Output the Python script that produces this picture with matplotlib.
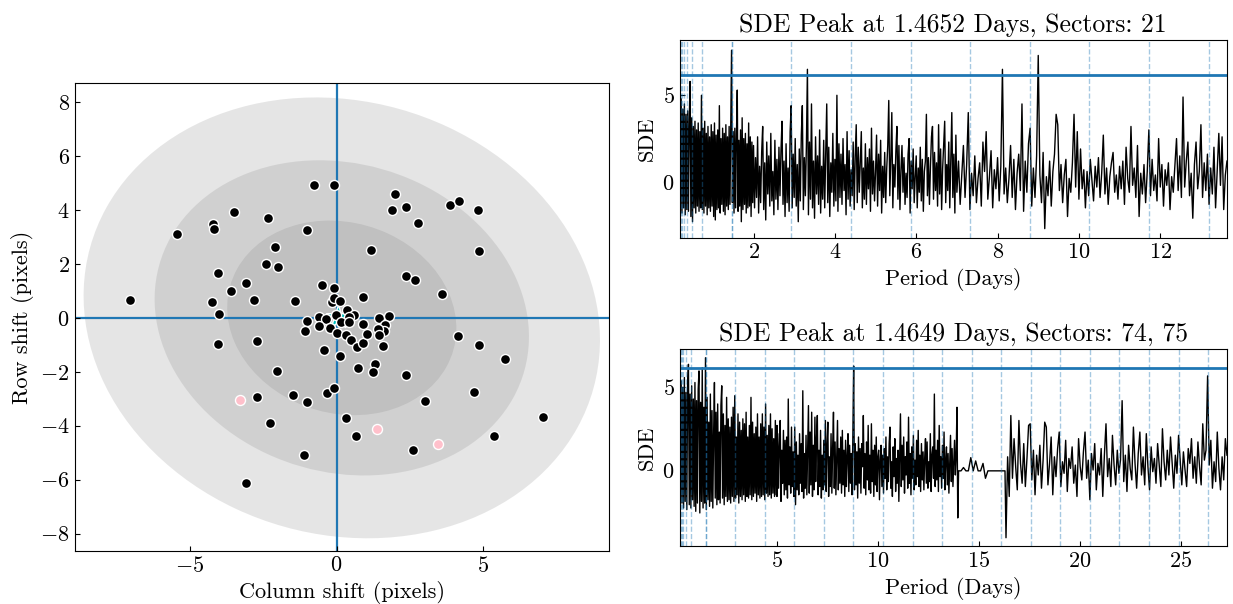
import numpy as np
import matplotlib.pyplot as plt
from matplotlib.patches import Ellipse

plt.rcParams.update({
    "font.family": "serif",
    "font.serif": ["cmr10"],
    "mathtext.fontset": "cm",
    "axes.formatter.use_mathtext": True,
    "font.size": 16,
    "xtick.direction": "in",
    "ytick.direction": "in",
})

# --- centroid shifts (pixels) ---
col_shift = [-7.04, -5.43, -4.19, -4.16, -3.49, -2.34, -0.99, -0.76, -0.07, 2.00,
             1.89, 2.36, 2.76, 3.88, 4.18, 4.82, 4.84, 1.19, -2.08, -2.41,
             -1.99, -4.03, -3.07, -3.61, -4.24, -4.01, -2.80, -1.43, -0.50, -0.07,
             0.91, 2.38, 2.66, 3.61, -4.04, -2.72, 4.15, 4.86, 5.74, -2.01,
             -0.42, 0.11, 0.72, 1.31, 1.23, 2.35, -1.47, -1.01, -0.31, -0.08,
             -2.70, 4.69, 3.03, 7.04, 0.31, -2.28, 0.66, 5.36, 2.62, -1.11,
             -3.09,
             -0.17, -0.10, 0.11, 0.36, 0.58, 0.41, -0.03, 0.17, -0.60, -0.37,
             -0.99, -1.07, -0.58, -0.21, 0.03, 0.33, 0.48, 0.70, 0.90, 1.04,
             0.89, 1.46, 1.80, 1.64, 1.61, 1.41, 1.44, 1.58, 0.44]
row_shift = [0.67, 3.10, 3.49, 3.30, 3.92, 3.71, 3.26, 4.93, 4.93, 4.58,
             4.02, 4.13, 3.52, 4.17, 4.35, 4.01, 2.47, 2.53, 2.64, 1.99,
             1.90, 1.65, 1.29, 0.98, 0.57, 0.14, 0.67, 0.61, 1.23, 1.12,
             0.79, 1.54, 1.41, 0.87, -0.97, -0.87, -0.66, -1.02, -1.54, -1.97,
             -1.20, -1.41, -1.87, -1.72, -2.00, -2.11, -2.85, -3.11, -2.80, -2.62,
             -2.94, -2.74, -3.09, -3.67, -3.71, -3.91, -4.38, -4.37, -4.89, -5.07,
             -6.14,
             0.57, 0.74, 0.62, 0.29, 0.10, 0.04, 0.10, -0.15, 0.04, -0.04,
             -0.11, -0.49, -0.32, -0.38, -0.56, -0.63, -0.83, -1.07, -0.93, -0.60,
             -0.21, 0.01, 0.07, -0.27, -0.49, -0.43, -0.65, -1.05, -0.15]
flag_col = [-3.28, 1.38, 3.46]
flag_row = [-3.06, -4.11, -4.69]

ell_center = (0.18, 0.0)
ell_widths = [18.0, 13.1, 8.0]
ell_heights = [15.9, 11.3, 7.0]
ell_angle = -27

# --- SDE periodogram, sector 21 ---
s21_bounds = [(0.18, 1.98), (2.00, 7.00), (7.00, 13.64)]
s21_sde_a = [6.3, -1.6, 4.8, -1.8, 4.2, -1.5, 4.5, -1.9, 3.9, -1.6,
             4.1, -1.7, 3.6, 5.8, -2.0, 3.7, -2.3, 3.2, -1.5, 3.5,
             -1.8, 3.0, -1.4, 3.4, -1.7, 2.9, -1.5, 5.0, -1.6, 3.1,
             -1.8, 3.5, -1.4, 2.8, -1.9, 3.2, -1.5, 2.6, -1.7, 3.3,
             -1.4, 2.9, -2.0, 3.4, -2.2, 2.7, -1.6, 3.0, -1.5, 4.4,
             -1.8, 2.5, -1.3, 3.1, -1.7, 2.8, -1.9, 3.3, -1.4, 2.6,
             -1.6, 3.2, -1.3, 3.0, 7.6, -1.2, 2.9, -1.8, 3.1, -1.5,
             2.7, 5.3, -1.7, 2.4, -1.4, 3.0, -2.3, 3.7, -1.6, 2.5,
             -1.3, 2.8, -1.8, 2.2, -1.5, 3.4, -1.4, 2.6, -2.0, 2.3,
             -1.2]
s21_sde_b = [2.1, -1.5, 1.4, -0.9, 2.6, -1.8, 0.9, -1.2, 1.7, 3.2,
             -1.6, 1.1, -2.2, 2.3, -0.7, 1.5, -1.4, 2.8, -1.1, 0.6,
             -1.9, 2.4, -1.0, 1.3, -1.6, 2.0, -0.8, 1.8, 3.5, -1.3,
             1.2, -2.0, 2.2, -1.2, 0.8, -1.7, 2.9, 4.4, -1.5, 1.6,
             -0.9, 2.5, -1.4, 1.0, -2.3, 1.9, -1.1, 2.7, 4.4, -1.6,
             1.4, -0.8, 2.1, 6.5, -1.9, 2.3, -1.0, 4.5, -1.5, 1.2,
             -2.1, 2.6, -0.7, 1.5, -1.3, 3.0, -1.8, 0.9, -1.0, 2.4,
             -1.5, 1.7, 4.5, -1.2, 2.0, -2.0, 1.1, -0.6, 2.8, -1.4,
             1.3, -1.1, 5.0, -1.7, 2.2, -0.9, 1.6, -1.3, 2.5, -0.5,
             1.0, -1.9, 2.9, -1.0, 1.8, -1.4, 0.7, -0.8, 2.3, -1.6,
             1.5, 3.3, -1.2, 2.0, -0.6, 1.1, 2.9, -1.5, 0.8, -1.0,
             2.2, -1.3, 1.4, -0.4, 1.9, -1.7, 3.1, -0.7, 1.2, -1.1,
             0.6, 2.7, -1.4, 1.6, -0.5, 2.4, -1.8, 0.9, -0.9, 1.7,
             -1.2, 0.8, 2.1, 4.7, -0.8, 1.3, 4.0, -1.5, 1.0, -0.3,
             1.8, 3.2, -1.0, 2.1, -1.6, 0.7, 2.1, -0.6, 1.4, -1.3,
             0.5, -0.9, 1.6, 2.5, -1.8, 1.2, -0.4, 1.9, -1.2, 0.3,
             1.5, -1.5, 0.8, -0.6, 2.0, -1.1, 1.3, -1.7, 0.6, 1.2,
             3.9, -0.8, 1.4, -1.3, 0.9, 2.6, 3.2, -1.0, 1.7, -0.5,
             1.1, -1.4, 3.3, -0.7, 1.9, -1.6, 0.8, 2.2, 3.5, -1.2,
             1.0, -0.5, 2.3, -1.5, 1.2, 4.0, -0.9, 1.6, -1.8, 2.7,
             -0.6]
s21_sde_c = [-0.6, 1.2, -1.3, 0.4, 2.1, -0.9, 1.0, 4.0, -1.6, 0.5,
             -0.8, 1.5, -1.2, 0.2, 1.1, -1.4, 2.3, 0.6, 2.9, -1.0,
             0.3, 1.8, -1.5, 0.7, -0.4, 1.4, -1.1, 0.9, 6.5, -0.7,
             0.8, -1.2, 0.2, 2.1, -0.9, 1.3, -1.6, 0.5, 1.6, -0.5,
             4.5, -1.7, 1.2, -0.6, 2.2, 3.1, -1.4, 0.8, -0.9, 1.5,
             7.3, 0.4, -1.2, 1.7, -2.7, 0.3, -0.8, 1.2, -1.4, 0.6,
             1.6, 3.9, 3.3, -0.5, 1.0, -1.2, 0.4, 1.3, -2.0, 0.2,
             -0.6, 1.1, 3.9, -0.3, 2.9, -1.0, 1.9, -0.4, 0.7, -1.5,
             0.6, -0.8, 1.3, 0.1, -1.1, 0.9, -0.3, 1.4, -0.9, 0.5,
             2.7, -0.7, 0.8, -1.3, 0.3, 1.1, 1.7, -0.6, 0.4, -1.0,
             0.9, -0.4, 1.2, -1.3, 2.0, 0.2, -0.6, 3.2, -0.2, 0.8,
             -0.9, 2.1, -2.0, 0.5, -0.7, 1.0, -1.2, 0.6, 3.0, -0.8,
             1.3, -0.5, 0.4, -1.1, 2.5, -0.3, 1.0, -1.4, 0.7, -0.2,
             1.1, -1.6, 0.3, -0.6, 0.9, 2.5, -0.5, 1.5, -0.9, 4.9,
             -0.3, 1.2, 2.3, -0.8, 0.5, -2.1, 1.0, 2.3, -0.4, 0.6,
             3.3, -0.9, 1.1, -0.5, 1.6, -1.3, 0.8, -0.7, 2.0, -1.5,
             0.6, 2.8, -0.2, 2.6, -1.6, 0.4, 1.2]
s21_period = 1.4652

# --- SDE periodogram, sectors 74-75 ---
s74_bounds = [(0.17, 5.0), (5.0, 10.0), (10.04, 13.96), (14.0, 16.3), (16.35, 27.3)]
s74_sde_a = [6.1, -2.2, 5.4, -2.0, 5.0, -2.3, 5.6, -1.9, 4.7, -2.4,
             5.2, 6.4, -2.1, 4.6, -2.3, 5.1, -1.8, 4.3, -2.2, 5.3,
             -2.5, 4.2, -2.0, 4.9, 6.0, -2.6, 4.1, -1.9, 6.2, -2.3,
             3.8, -2.0, 6.8, -2.4, 4.4, -1.8, 2.9, -2.2, 4.6, -1.9,
             3.6, -2.3, 2.2, 5.3, -1.7, 3.5, -2.1, 4.0, -1.8, 2.3,
             -2.0, 3.9, 5.1, -1.7, 3.4, -2.1, 2.7, -1.6, 4.4, -1.9,
             3.1, -1.8, 2.6, -2.0, 3.2, -1.6, 3.8, -1.9, 4.5, -1.7,
             2.0, -1.5, 3.4, -2.0, 2.9, -1.6, 2.4, -1.8, 3.1, -1.5,
             2.8, -1.9, 3.5, -1.6, 2.0, -1.7, 2.7, -1.5, 4.4, -1.8,
             2.9, -1.6, 2.2, -1.4, 2.6, -1.9, 3.4, -1.5, 2.0, -1.7,
             2.8, -1.6, 3.4, -1.5, 2.6, -1.8, 4.0, -1.4, 2.1, -1.6,
             2.7, -1.5, 3.4, -1.7, 2.5, -1.4, 1.9, -1.6, 3.0, -1.5,
             2.7]
s74_sde_b = [-1.6, 2.2, -1.1, 1.5, 3.0, -1.9, 1.2, -0.8, 2.4, -1.5,
             1.8, -1.2, 2.0, -1.7, 4.3, -0.9, 1.4, -1.4, 2.6, -1.0,
             1.1, -1.6, 2.6, -2.1, 1.7, -1.2, 0.9, -1.5, 2.2, -0.8,
             1.6, -1.3, 4.8, -1.7, 1.0, -1.1, 2.1, -1.5, 1.3, 3.9,
             -1.4, 2.3, -0.9, 3.5, -1.6, 1.5, -1.2, 3.2, -0.7, 1.9,
             3.3, -1.5, 1.2, -1.0, 2.4, -1.7, 0.9, -1.2, 1.8, -0.9,
             3.0, -1.3, 1.5, 2.9, -1.6, 0.8, -1.0, 2.2, -1.4, 1.4,
             3.5, -1.1, 1.7, -1.5, 0.7, 3.0, -1.2, 1.3, -0.8, 2.0,
             -1.4, 2.4, -0.9, 1.2, -1.6, 1.8, -1.0, 0.8, 2.2, -1.3,
             1.5, -0.8, 1.0, -1.5, 2.0, 6.3, -1.2, 1.6, -0.9, 1.1,
             -1.7, 2.0, -0.8, 1.3, -1.4, 1.6, 0.2, 3.3, -1.1, 1.0,
             -1.5, 1.7, -0.6, 2.7, -1.2, 0.9, -1.4, 2.8, -0.7, 1.2,
             -1.6, 1.5, -0.9, 2.0, -1.3, 0.8]
s74_sde_c = [1.2, -1.8, 0.6, 1.5, -1.0, 0.9, -1.4, 1.3, -0.5, 2.0,
             -1.2, 0.8, -0.7, 1.6, 2.6, -1.1, 0.5, -1.6, 1.4, -0.4,
             1.9, -1.3, 0.7, -0.8, 1.2, -1.9, 0.9, 3.4, -1.0, 1.5,
             -0.6, 2.0, -1.4, 0.8, -0.3, 1.7, -1.1, 3.2, -0.8, 1.0,
             -1.5, 1.4, -0.5, 2.1, -1.2, 0.6, -0.9, 1.8, -0.4, 2.4,
             -1.0, 0.9, -1.3, 1.6, -0.6, 1.1, -1.2, 0.7, 1.9, -0.8,
             1.7, -1.1, 0.5, -0.7, 2.2, -1.3, 0.9, 1.4, -0.5, 4.6,
             -1.0, 1.2, -0.6, 1.8, -1.3, 2.7, -0.4, 0.8, -1.1, 1.5,
             -0.5, 2.3, -1.2, 0.6, 1.4, -0.9, 1.0, -1.4, 0.4, 2.1,
             -0.7, 1.3, -1.0, 0.5, 1.8, -0.3, 0.9, 3.8, -2.9]
s74_sde_d = [-0.05, -0.05, 0.15, -0.05, -0.05, 0.75, -0.05, 0.55, -0.05, -0.05,
             0.4, -0.5, -0.05, -0.05, -0.05, -0.05, -0.05, -0.05, -0.05, -0.05]
s74_sde_e = [-4.1, 0.8, -1.6, 3.3, -0.5, 1.9, 0.2, -1.2, 3.0, 0.4,
             -0.8, 1.6, -1.0, 0.7, 2.7, 2.8, -0.6, 1.2, -1.5, 0.9,
             -0.3, 1.5, -1.1, 0.6, 2.9, 2.6, -0.9, 0.4, 2.0, -1.5,
             0.8, -0.4, 1.3, 2.3, -1.0, 0.5, -0.2, 1.8, -1.3, 0.7,
             0.1, 1.4, -0.8, 0.3, -1.6, 1.9, 0.2, -0.6, 1.1, 2.3,
             -0.5, 0.6, -1.8, 1.0, 0.0, 1.6, -1.2, 0.4, -0.3, 1.3,
             -1.6, 0.9, 2.8, -0.4, 0.7, -1.0, 2.1, 0.3, -0.9, 1.2,
             -0.2, 0.6, 4.2, -0.7, 0.9, -1.3, 1.5, 0.1, -0.6, 2.6,
             0.4, -1.1, 1.0, 2.3, -0.3, 0.8, -0.9, 2.2, 0.2, -1.2,
             1.4, -0.1, 0.7, -0.8, 1.6, 0.3, -1.0, 2.5, 0.5, -0.6,
             1.2, -0.3, 2.0, 0.4, -1.1, 0.9, -0.2, 2.1, 0.6, -0.9,
             1.1, 0.0, -1.0, 1.3, 0.4, 1.9, -0.5, 0.8, -0.8, 1.7,
             0.2, -0.9, 2.8, 0.6, 1.2, 5.7, 0.3, 1.8, -1.1, 0.5,
             -0.7, 2.3, 0.1, -1.2, 0.8, -0.6, 1.9, 0.9]
s74_period = 1.4649
sde_threshold = 6.15

fig = plt.figure(figsize=(12.33, 6.04), dpi=100)
ax0 = fig.add_axes([0.0605, 0.0877, 0.4334, 0.7743])
ax1 = fig.add_axes([0.5511, 0.606, 0.444, 0.328])
ax2 = fig.add_axes([0.5511, 0.0955, 0.444, 0.327])

# left: centroid offsets
for w, h in zip(ell_widths, ell_heights):
    ax0.add_patch(Ellipse(ell_center, w, h, angle=ell_angle,
                          facecolor="gray", alpha=0.2, edgecolor="none", zorder=0))
ax0.axvline(0, color="C0", lw=1.6, zorder=1)
ax0.axhline(0, color="C0", lw=1.6, zorder=1)
ax0.scatter([0.05], [0.05], marker="*", s=320, c="c", edgecolors="white",
            linewidths=1, zorder=2)
ax0.scatter(col_shift, row_shift, s=52, c="k", edgecolors="white",
            linewidths=1, zorder=3)
ax0.scatter(flag_col, flag_row, s=52, c="pink", edgecolors="white",
            linewidths=1, zorder=3)
ax0.set_xlim(-8.92, 9.28)
ax0.set_ylim(-8.65, 8.70)
ax0.set_xticks([-5, 0, 5])
ax0.set_yticks(range(-8, 9, 2))
ax0.set_xlabel("Column shift (pixels)")
ax0.set_ylabel("Row shift (pixels)")


def sde_panel(ax, bounds, chunks, period, title, xlim, ylim, xticks):
    periods = np.concatenate([np.linspace(a, b, len(v))
                              for (a, b), v in zip(bounds, chunks)])
    sde = np.concatenate(chunks)
    ax.plot(periods, sde, color="k", lw=1.0)
    # harmonics and sub-harmonics of the peak period
    for n in range(1, 30):
        ax.axvline(period * n, color="C0", alpha=0.4, lw=1, ls="--", snap=True)
        ax.axvline(period / n, color="C0", alpha=0.4, lw=1, ls="--", snap=True)
    ax.axhline(sde_threshold, color="C0", lw=2)
    ax.set_xlim(*xlim)
    ax.set_ylim(*ylim)
    ax.set_xticks(xticks)
    ax.set_yticks([0, 5])
    ax.set_xlabel("Period (Days)")
    ax.set_ylabel("SDE")
    ax.set_title(title, fontsize=18.5)


sde_panel(ax1, s21_bounds, [s21_sde_a, s21_sde_b, s21_sde_c], s21_period,
          "SDE Peak at 1.4652 Days, Sectors: 21",
          (0.18, 13.64), (-3.24, 8.2), [2, 4, 6, 8, 10, 12])
sde_panel(ax2, s74_bounds, [s74_sde_a, s74_sde_b, s74_sde_c, s74_sde_d, s74_sde_e],
          s74_period, "SDE Peak at 1.4649 Days, Sectors: 74, 75",
          (0.17, 27.3), (-4.62, 7.34), [5, 10, 15, 20, 25])

fig.savefig("out.png", dpi=100)
